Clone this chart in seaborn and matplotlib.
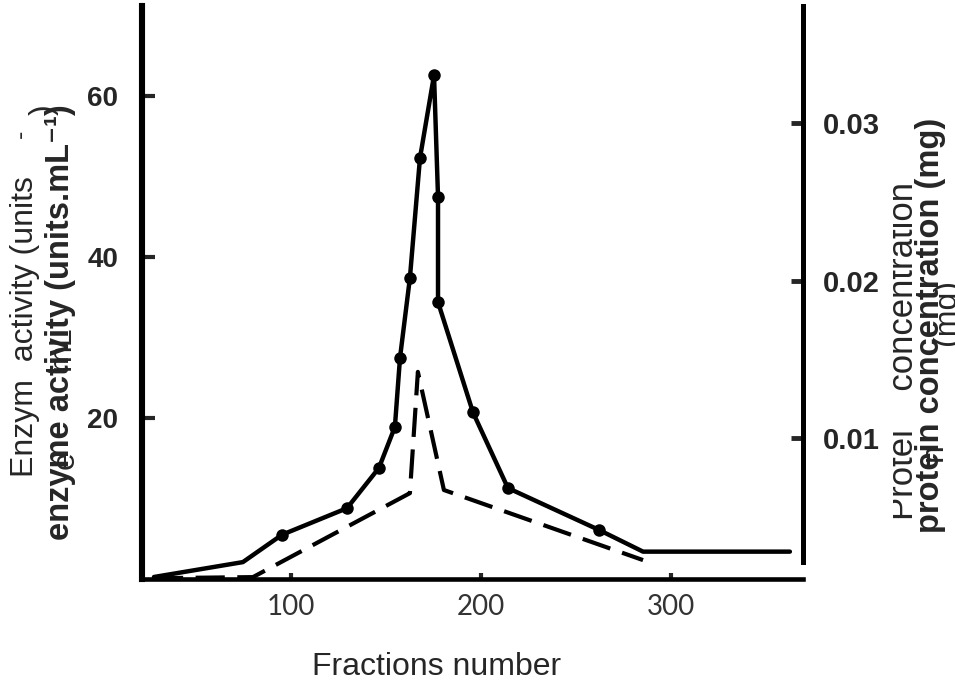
import matplotlib
matplotlib.use('Agg')
import matplotlib.pyplot as plt
import seaborn as sns
from matplotlib.transforms import Bbox

# enzyme activity (solid line, left axis)
enzyme_fraction = [27.9, 74.7, 95.3, 129.5, 146.3, 154.7, 157.4, 162.6, 167.9, 175.3,
                   177.4, 177.4, 195.8, 214.2, 262.1, 285.3, 362.6]
enzyme_activity = [0.25, 2.1, 5.5, 8.8, 13.8, 18.9, 27.5, 37.4, 52.3, 62.6,
                   47.5, 34.4, 20.7, 11.3, 6.1, 3.4, 3.4]
dot_idx = [2, 3, 4, 5, 6, 7, 8, 9, 10, 11, 12, 13, 14]

# protein concentration (dashed line, right axis)
protein_fraction = [27.9, 80.0, 162.6, 166.8, 180.5, 285.3]
protein_mg = [0.0011, 0.00117, 0.0065, 0.0142, 0.0067, 0.00225]

x_ticks = [100, 200, 300]
left_ticks = [20, 40, 60]
right_ticks = [0.01, 0.02, 0.03]

W, H = 955, 682

sns.set_style('white')
plt.rcParams['font.family'] = ['Liberation Sans', 'DejaVu Sans']

fig = plt.figure(figsize=(W / 100, H / 100), dpi=100)
ax = fig.add_axes([142 / W, 1 - 579 / H, (803 - 142) / W, (579 - 6) / H])
ax2 = ax.twinx()

sns.lineplot(x=enzyme_fraction, y=enzyme_activity, ax=ax, estimator=None, sort=False,
             color='black', linewidth=3.2, marker='o', markersize=9,
             markevery=dot_idx, markeredgewidth=0)
sns.lineplot(x=protein_fraction, y=protein_mg, ax=ax2, estimator=None, sort=False,
             color='black', linewidth=3.0, linestyle=(0, (7, 3)))

ax.set_xlim(21.6, 369.5)
ax.set_ylim(0, 71.2)
ax2.set_ylim(0.00105, 0.03743)

for a in (ax, ax2):
    a.spines['top'].set_visible(False)
ax.spines['right'].set_visible(False)
ax2.spines['left'].set_visible(False)
ax2.spines['bottom'].set_visible(False)
ax.spines['left'].set_linewidth(4.4)
ax.spines['bottom'].set_linewidth(3.3)
ax2.spines['right'].set_linewidth(3.6)
ax2.spines['right'].set_bounds(0.0021, 0.03743)
for s in ('left', 'bottom'):
    ax.spines[s].set_color('black')
ax2.spines['right'].set_color('black')

ax.set_xticks(x_ticks)
ax.set_xticklabels([str(t) for t in x_ticks], fontsize=20, color='#333333',
                   family=['Lato', 'DejaVu Sans'])
ax.tick_params(axis='x', direction='in', length=4, width=3, pad=11, bottom=True)

ax.set_yticks(left_ticks)
ax.set_yticklabels([str(t) for t in left_ticks], fontsize=20, fontweight='bold')
ax.tick_params(axis='y', direction='in', length=9, width=3, pad=17, left=True)

ax2.set_yticks(right_ticks)
ax2.set_yticklabels([f'{t:.2f}' for t in right_ticks], fontsize=21, fontweight='bold')
ax2.tick_params(axis='y', direction='in', length=9, width=3.5, pad=14, right=True)

ax.set_xlabel('')
ax.set_ylabel('')
ax2.set_ylabel('')


def ftext(px, py, s, **kw):
    return fig.text(px / W, 1 - py / H, s, **kw)


# left labels (overlapping, as in the scan)
ftext(25, 477, 'Enzym  activity (units', rotation=90, ha='center', va='bottom', fontsize=23)
ftext(21, 134, '-', rotation=90, ha='center', va='center', fontsize=18)
ftext(44, 110, ')', rotation=90, ha='center', va='center', fontsize=23)
ftext(61, 540, 'enzyme activity (units.mL⁻¹)', rotation=90, ha='center', va='bottom',
      fontsize=23.5, fontweight='bold')
ftext(62, 348, 'mL', rotation=90, ha='center', va='center', fontsize=23)
ftext(66, 460, 'e', rotation=90, ha='center', va='center', fontsize=23)

# right labels
t = ftext(903, 520, 'Protei    concentration', rotation=90, ha='center', va='bottom',
          fontsize=25)
t.set_clip_box(Bbox([[893, 0], [W, H]]))
t.set_clip_on(True)
ftext(930, 533, 'protein concentration (mg)', rotation=90, ha='center', va='bottom',
      fontsize=23.5, fontweight='bold')
ftext(934, 452, 'n', rotation=90, ha='center', va='center', fontsize=23)
ftext(947, 312, '(mg)', rotation=90, ha='center', va='center', fontsize=23)

# x label
ftext(437, 667, 'Fractions number', ha='center', va='center', fontsize=23)

fig.savefig('out.png', dpi=100)
